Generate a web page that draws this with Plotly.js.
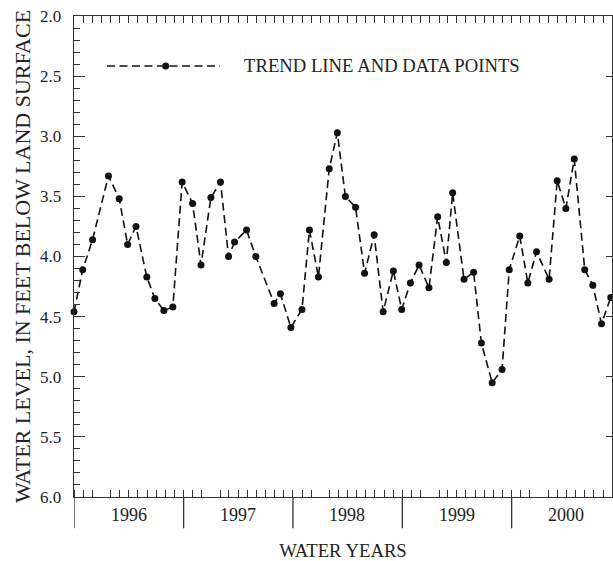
<!DOCTYPE html>
<html>
<head>
<meta charset="utf-8">
<script src="https://cdn.plot.ly/plotly-3.0.1.min.js"></script>
<style>html,body{margin:0;padding:0;background:#fff}#chart{width:613px;height:561px}</style>
</head>
<body>
<div id="chart"></div>
<script>
// Measurement dates and water level (feet below land surface)
var dates = ['1995-10-01','1995-10-30','1995-12-02','1996-01-24','1996-02-29','1996-03-28','1996-04-25','1996-05-31','1996-06-27','1996-07-27','1996-08-26','1996-09-26',
  '1996-10-31','1996-11-28','1996-12-31','1997-02-01','1997-02-28','1997-03-20','1997-04-29','1997-05-30','1997-07-30','1997-08-20','1997-09-24',
  '1997-10-31','1997-11-25','1997-12-25','1998-01-30','1998-02-26','1998-03-25','1998-04-28','1998-05-28','1998-06-29','1998-07-29','1998-09-01','1998-09-29',
  '1998-10-28','1998-11-26','1998-12-29','1999-01-27','1999-02-25','1999-03-18','1999-04-25','1999-05-27','1999-06-22','1999-07-28','1999-08-30','1999-09-23',
  '1999-10-28','1999-11-24','1999-12-23','2000-02-03','2000-03-01','2000-03-30','2000-04-27','2000-06-01','2000-06-28','2000-07-27','2000-08-27'];
var levels = [4.46,4.11,3.86,3.33,3.52,3.90,3.75,4.17,4.35,4.45,4.42,3.38,
  3.56,4.07,3.51,3.38,4.00,3.88,3.78,4.00,4.39,4.31,4.59,
  4.44,3.78,4.17,3.27,2.97,3.50,3.59,4.14,3.82,4.46,4.12,4.44,
  4.22,4.07,4.26,3.67,4.05,3.47,4.19,4.13,4.72,5.05,4.94,4.11,
  3.83,4.22,3.96,4.19,3.37,3.60,3.19,4.11,4.24,4.56,4.34];
var waterYears = [1996,1997,1998,1999,2000];
var legendLabel = 'TREND LINE AND DATA POINTS';
var xStart = '1995-10-01', xEnd = '2000-08-31';
var yMin = 2.0, yMax = 6.0;

var FONT = '"Liberation Serif", "Times New Roman", serif';
var INK = '#222';

var traces = [
  {x: dates, y: levels, type: 'scatter', mode: 'lines+markers', cliponaxis: false,
   line: {color: '#111', width: 1.6, dash: '8px,4.5px'},
   marker: {color: '#111', size: 7}, showlegend: false, hoverinfo: 'x+y'},
  {x: dates, y: levels, xaxis: 'x2', yaxis: 'y2', type: 'scatter', mode: 'markers',
   marker: {opacity: 0}, showlegend: false, hoverinfo: 'skip'}
];

var shapes = [];
var annotations = [];
waterYears.forEach(function(yr){
  var start = (yr - 1) + '-10-01';
  shapes.push({type: 'line', xref: 'x', yref: 'paper', x0: start, x1: start, y0: 0, y1: -0.065,
    line: {color: '#333', width: 1.3}});
  annotations.push({xref: 'x', yref: 'paper', x: yr + '-04-01', y: -0.037, yanchor: 'middle',
    text: String(yr), showarrow: false, font: {family: FONT, size: 18, color: INK}});
});
// legend sample drawn manually
shapes.push({type: 'line', xref: 'paper', yref: 'paper', x0: 0.0613, x1: 0.2714, y0: 0.896, y1: 0.896,
  line: {color: '#111', width: 1.6, dash: '8px,4.5px'}});
shapes.push({type: 'circle', xref: 'paper', yref: 'paper', xsizemode: 'pixel', ysizemode: 'pixel',
  xanchor: 0.1704, yanchor: 0.896, x0: -3.5, x1: 3.5, y0: -3.5, y1: 3.5,
  fillcolor: '#111', line: {color: '#111', width: 0}});
annotations.push({xref: 'paper', yref: 'paper', x: 0.312, y: 0.898, xanchor: 'left', yanchor: 'middle',
  text: legendLabel, showarrow: false, font: {family: FONT, size: 18.7, color: INK}});

var layout = {
  width: 613, height: 561,
  margin: {l: 74, r: 1, t: 16, b: 64},
  paper_bgcolor: '#fff', plot_bgcolor: '#fff',
  font: {family: FONT, color: INK},
  showlegend: false,
  xaxis: {
    type: 'date', range: [xStart, xEnd], showgrid: false, zeroline: false,
    showline: true, linecolor: '#333', linewidth: 1.3,
    ticks: '', showticklabels: false,
    minor: {ticks: 'inside', dtick: 'M1', tick0: '1995-10-01', ticklen: 7, tickcolor: '#333', tickwidth: 1, showgrid: false},
    title: {text: 'WATER YEARS', font: {family: FONT, size: 18.7, color: INK}, standoff: 47}
  },
  xaxis2: {
    type: 'date', range: [xStart, xEnd], overlaying: 'x', side: 'top', anchor: 'y2',
    showgrid: false, zeroline: false, showline: true, linecolor: '#333', linewidth: 1.3,
    ticks: 'inside', dtick: 'M1', tick0: '1995-10-01', ticklen: 7, tickcolor: '#333', tickwidth: 1,
    showticklabels: false
  },
  yaxis: {
    range: [yMax, yMin], showgrid: false, zeroline: false,
    showline: true, linecolor: '#333', linewidth: 1.3,
    ticks: 'inside', dtick: 0.5, tick0: 2, ticklen: 11, tickcolor: '#333', tickwidth: 1,
    minor: {ticks: 'inside', dtick: 0.1, ticklen: 6, tickcolor: '#333', tickwidth: 1, showgrid: false},
    tickformat: '.1f', tickfont: {family: FONT, size: 17, color: INK}, ticklabelstandoff: 8,
    title: {text: 'WATER LEVEL, IN FEET BELOW LAND SURFACE', font: {family: FONT, size: 22, color: INK}, standoff: 3}
  },
  yaxis2: {
    range: [yMax, yMin], overlaying: 'y', side: 'right', anchor: 'x2',
    showgrid: false, zeroline: false, showline: true, linecolor: '#333', linewidth: 1.3,
    ticks: 'inside', dtick: 0.5, tick0: 2, ticklen: 6, tickcolor: '#333', tickwidth: 1,
    showticklabels: false
  },
  shapes: shapes,
  annotations: annotations
};

Plotly.newPlot('chart', traces, layout, {displayModeBar: false, staticPlot: true});
</script>
</body>
</html>
